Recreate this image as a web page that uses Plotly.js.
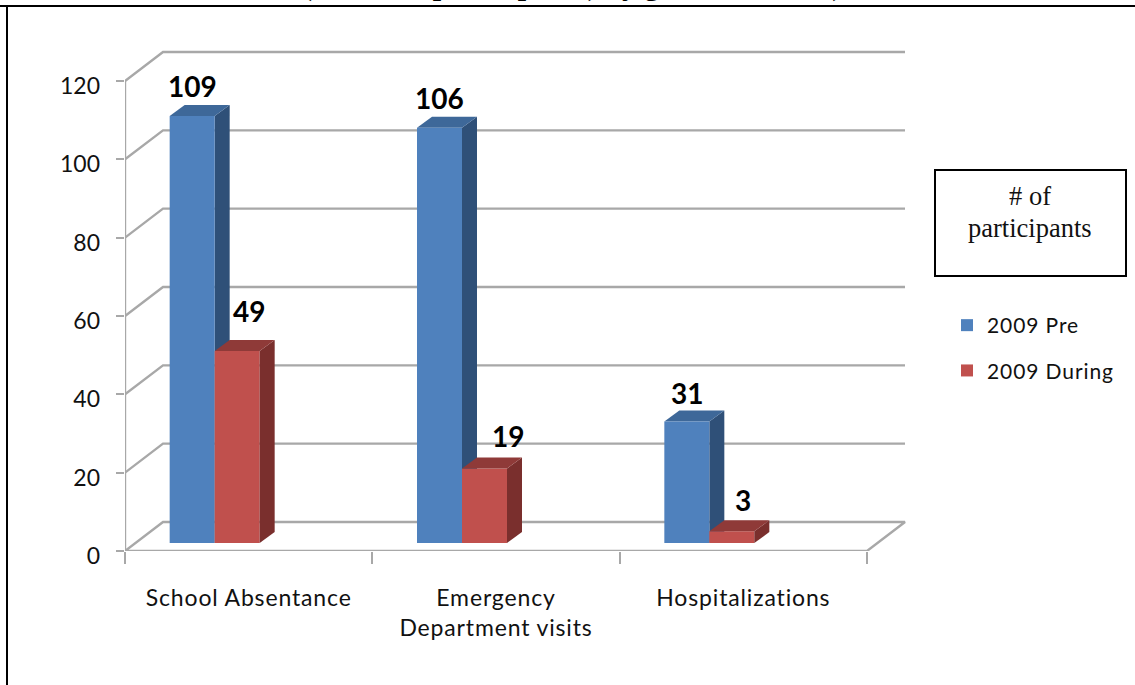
<!DOCTYPE html>
<html><head><meta charset="utf-8">
<script src="https://cdn.plot.ly/plotly-3.0.1.min.js"></script>
<style>html,body{margin:0;padding:0;background:#fff;overflow:hidden}
.x2tick text{letter-spacing:0.85px}
.legendtext{letter-spacing:0.9px}
</style></head><body><div id="chart" style="width:1135px;height:685px"></div>
<script>
const categories=['School Absentance','Emergency<br>Department visits','Hospitalizations'];
const seriesPre=[109,106,31];
const seriesDuring=[49,19,3];
const seriesNames=['2009 Pre','2009 During'];
const yTicks=[0,20,40,60,80,100,120];
const captionLines=['# of','participants'];
const heading='(# of total participants) by gender in 2009)';
const colorPre='#4f81bd',colorPreTop='#3e6899',colorPreSide='#2f5078';
const colorDur='#c0504d',colorDurTop='#8f3a38',colorDurSide='#7a2f2d';
const gridColor='#a8a8a8';
const W=1135,H=685;
// plot pixel box
const pxL=125,pxR=867,pxBot=551,pxTop=81;
const pxPerCat=(pxR-pxL)/3,pxPerVal=(pxBot-pxTop)/120;
const xMaxPx=930,yMaxVal=130;
const xMax=-0.5+(xMaxPx-pxL)/pxPerCat;
const barW=45/pxPerCat, barStart=-(79/pxPerCat); // blue-left relative to category centre
const depthX=15/pxPerCat, depthY=11/pxPerVal;   // bar depth
const wallX=38/pxPerCat, wallY=29/pxPerVal;     // wall depth
const baseShift=8/pxPerVal;                     // bar floor above front axis
const labelDrop=5/pxPerVal;                     // y tick labels sit a little below their ticks

const domX=[pxL/W,xMaxPx/W], domY=[1-pxBot/H,1-(pxBot-yMaxVal*pxPerVal)/H];
const traces=[];
// walls, gridlines
yTicks.forEach((v)=>{
  const xs=v===0?[-0.5,-0.5+wallX,2.5+wallX,2.5,-0.5]:[-0.5,-0.5+wallX,2.5+wallX];
  const ys=v===0?[0,wallY,wallY,0,0]:[v,v+wallY,v+wallY];
  traces.push({type:'scatter',mode:'lines',x:xs,y:ys,xaxis:'x',yaxis:'y',showlegend:false,hoverinfo:'skip',cliponaxis:false,
    line:{color:gridColor,width:2.4}});
});
// vertical value axis line
traces.push({type:'scatter',mode:'lines',x:[-0.5,-0.5],y:[yTicks[0],yTicks[yTicks.length-1]],xaxis:'x',yaxis:'y',showlegend:false,hoverinfo:'skip',cliponaxis:false,line:{color:gridColor,width:2.4}});
// carrier for the y tick labels
traces.push({type:'scatter',mode:'none',x:[0],y:[0],xaxis:'x',yaxis:'y5',showlegend:false,hoverinfo:'skip'});
function faces(i,left,val,top,side,xa,ya){
  const l=i+left,r=l+barW;
  return [
   {type:'scatter',mode:'lines',x:[r,r+depthX,r+depthX,r,r],y:[0,depthY,val+depthY,val,0],fill:'toself',fillcolor:side,line:{width:0},xaxis:xa,yaxis:ya,showlegend:false,hoverinfo:'skip',cliponaxis:false},
   {type:'scatter',mode:'lines',x:[l,r,r+depthX,l+depthX,l],y:[val,val,val+depthY,val+depthY,val],fill:'toself',fillcolor:top,line:{width:0},xaxis:xa,yaxis:ya,showlegend:false,hoverinfo:'skip',cliponaxis:false}
  ];
}
seriesPre.forEach((v,i)=>traces.push(...faces(i,barStart,v,colorPreTop,colorPreSide,'x','y2')));
// real bars
traces.push({type:'bar',name:seriesNames[0],legendgroup:'a',x:[0,1,2],y:seriesPre,width:barW,offset:barStart,marker:{color:colorPre,line:{width:0}},xaxis:'x2',yaxis:'y3',cliponaxis:false});
traces.push({type:'bar',name:seriesNames[1],legendgroup:'b',x:[0,1,2],y:seriesDuring,width:barW,offset:barStart+barW,marker:{color:colorDur,line:{width:0}},xaxis:'x2',yaxis:'y3',cliponaxis:false});
seriesDuring.forEach((v,i)=>traces.push(...faces(i,barStart+barW,v,colorDurTop,colorDurSide,'x3','y4')));

const shiftedRange=[-baseShift,yMaxVal-baseShift];
const plainX=o=>Object.assign({domain:domX,range:[-0.5,xMax],type:'linear',showgrid:false,zeroline:false,showticklabels:false,ticks:'',showline:false,fixedrange:true},o);
const plainY=o=>Object.assign({domain:domY,showgrid:false,zeroline:false,showticklabels:false,ticks:'',showline:false,fixedrange:true},o);

// value labels
const labelFont={family:'Lato, Carlito, sans-serif',size:28,color:'#000'};
const preDx=[0,0,0],preDy=[30,30,29],durDx=[12,23,11],durDy=[40,33,31];
const annotations=[];
seriesPre.forEach((v,i)=>annotations.push({x:i+barStart+barW/2,y:v,xref:'x2',yref:'y3',text:'<b>'+v+'</b>',showarrow:false,font:labelFont,xshift:preDx[i],yshift:preDy[i],xanchor:'center',yanchor:'middle'}));
seriesDuring.forEach((v,i)=>annotations.push({x:i+barStart+1.5*barW,y:v,xref:'x2',yref:'y3',text:'<b>'+v+'</b>',showarrow:false,font:labelFont,xshift:durDx[i],yshift:durDy[i],xanchor:'center',yanchor:'middle'}));
// text box caption
const captionY=[196,228];
captionLines.forEach((t,i)=>annotations.push({xref:'paper',yref:'paper',x:1030/W,y:1-captionY[i]/H,text:t,showarrow:false,xanchor:'center',yanchor:'middle',
  font:{family:'"Liberation Serif", serif',size:26.5,color:'#111'}}));
// cropped heading at the top of the page
annotations.push({xref:'paper',yref:'paper',x:300/W,y:1-(-15)/H,xanchor:'left',yanchor:'middle',showarrow:false,
  text:'<b>'+heading+'</b>',font:{family:'"Liberation Serif", serif',size:30,color:'#000'}});

const layout={
  width:W,height:H,margin:{l:0,r:0,t:0,b:0},paper_bgcolor:'#fff',plot_bgcolor:'rgba(0,0,0,0)',barmode:'overlay',
  font:{family:'Lato, Carlito, sans-serif',size:21,color:'#111'},
  xaxis:plainX({
    ticks:'outside',ticklen:12,tickwidth:2,tickcolor:gridColor,tickvals:[-0.5,0.5,1.5,2.5],ticktext:['','','',''],showticklabels:true}),
  yaxis:plainY({range:[0,yMaxVal],tickvals:yTicks,ticktext:yTicks.map(()=>''),ticks:'outside',ticklen:8,tickwidth:2,tickcolor:gridColor,showticklabels:true}),
  yaxis2:plainY({overlaying:'y',range:shiftedRange}),
  xaxis2:plainX({overlaying:'x',anchor:'y3',tickvals:[0,1,2],ticktext:categories,showticklabels:true,side:'bottom',tickfont:{size:23,color:'#111'},ticklabelstandoff:31}),
  yaxis3:plainY({overlaying:'y',range:shiftedRange,anchor:'x2'}),
  xaxis3:plainX({overlaying:'x',anchor:'y4'}),
  yaxis4:plainY({overlaying:'y',range:shiftedRange,anchor:'x3'}),
  yaxis5:plainY({domain:[1-(pxBot+20)/H,domY[1]],range:[labelDrop-20/pxPerVal,yMaxVal+labelDrop],anchor:'x',tickvals:yTicks,showticklabels:true,ticks:'',tickfont:{size:23,color:'#111'},ticklabelstandoff:24}),
  legend:{x:947/W,y:1-305/H,xanchor:'left',yanchor:'top',bgcolor:'rgba(0,0,0,0)',tracegroupgap:15,font:{size:21,color:'#111'},traceorder:'grouped'},
  annotations,
  shapes:[
    {type:'line',xref:'paper',yref:'paper',x0:0,x1:1,y0:1-6/H,y1:1-6/H,line:{color:'#000',width:2}},
    {type:'line',xref:'paper',yref:'paper',x0:7/W,x1:7/W,y0:1-6/H,y1:0,line:{color:'#000',width:2}},
    {type:'rect',xref:'paper',yref:'paper',x0:935/W,x1:1126/W,y0:1-170/H,y1:1-276/H,line:{color:'#000',width:2}}
  ]
};
Plotly.newPlot('chart',traces,layout,{staticPlot:true,displayModeBar:false});
</script></body></html>
